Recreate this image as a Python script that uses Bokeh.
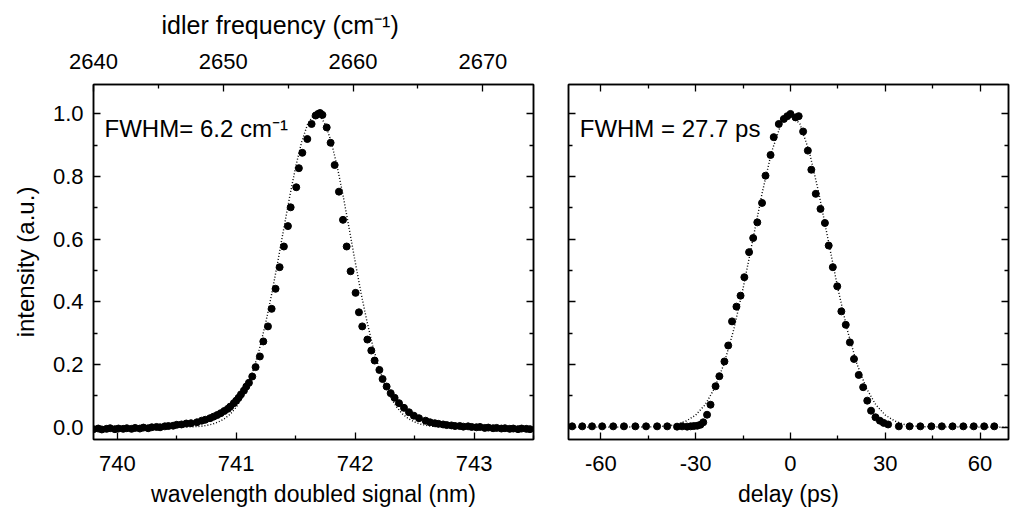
from bokeh.plotting import figure
from bokeh.models import Range1d, LinearAxis, FixedTicker, NumeralTickFormatter, CustomJSTickFormatter, Label, Title
from bokeh.layouts import row
from bokeh.embed import file_html
from bokeh.resources import INLINE

FONT = "Liberation Sans"

# ---------------- data: left panel (spectrum) ----------------
wl_nm = [739.80, 739.84, 739.87, 739.91, 739.94, 739.98, 740.01, 740.05, 740.08, 740.12,
         740.15, 740.19, 740.22, 740.26, 740.29, 740.33, 740.36, 740.40, 740.43, 740.47,
         740.50, 740.54, 740.58, 740.62, 740.67, 740.71, 740.74, 740.78, 740.81, 740.84,
         740.87, 740.90, 740.93, 740.95, 740.98, 741.00, 741.02, 741.04, 741.065, 741.085,
         741.107, 741.135, 741.163, 741.199, 741.228, 741.267, 741.298, 741.331, 741.365, 741.401,
         741.435, 741.458, 741.505, 741.527, 741.556, 741.598, 741.634, 741.668, 741.688, 741.705,
         741.725, 741.761, 741.794, 741.828, 741.864, 741.898, 741.929, 741.962, 742.004, 742.032,
         742.060, 742.103, 742.136, 742.164, 742.204, 742.231, 742.265, 742.299, 742.332, 742.369,
         742.411, 742.453, 742.494, 742.537, 742.593, 742.63, 742.67, 742.70, 742.74, 742.77,
         742.81, 742.84, 742.88, 742.91, 742.95, 742.98, 743.02, 743.05, 743.09, 743.12,
         743.16, 743.19, 743.23, 743.26, 743.30, 743.33, 743.37, 743.40, 743.44, 743.47]
wl_int = [-0.006, -0.004, -0.007, -0.005, -0.003, -0.006, -0.004, -0.005, -0.003, -0.005,
          -0.002, -0.004, -0.001, -0.003, 0.000, 0.001, 0.000, 0.003, 0.004, 0.005,
          0.008, 0.009, 0.012, 0.013, 0.016, 0.021, 0.024, 0.029, 0.034, 0.039,
          0.045, 0.052, 0.059, 0.066, 0.077, 0.085, 0.094, 0.105, 0.117, 0.130,
          0.142, 0.162, 0.192, 0.226, 0.274, 0.322, 0.378, 0.442, 0.511, 0.577,
          0.642, 0.702, 0.766, 0.827, 0.876, 0.920, 0.968, 0.995, 1.000, 1.003,
          0.997, 0.957, 0.908, 0.837, 0.752, 0.662, 0.577, 0.498, 0.429, 0.367,
          0.322, 0.280, 0.245, 0.213, 0.183, 0.154, 0.130, 0.109, 0.094, 0.077,
          0.062, 0.048, 0.037, 0.029, 0.021, 0.016, 0.013, 0.011, 0.009, 0.007,
          0.006, 0.004, 0.004, 0.002, 0.003, 0.001, 0.000, 0.001, -0.002, -0.001,
          -0.003, -0.002, -0.004, -0.003, -0.005, -0.004, -0.006, -0.004, -0.005, -0.006]

wl_fit_nm = [739.80, 740.50, 740.60, 740.65, 740.70, 740.75, 740.80, 740.85, 740.90, 740.95,
             741.00, 741.05, 741.10, 741.15, 741.20, 741.25, 741.30, 741.35, 741.40, 741.45,
             741.50, 741.55, 741.60, 741.65, 741.70, 741.75, 741.80, 741.85, 741.90, 741.95,
             742.00, 742.05, 742.10, 742.15, 742.20, 742.25, 742.30, 742.35, 742.40, 742.45,
             742.50, 742.55, 742.60, 742.65, 742.70, 742.75, 742.85, 743.50]
wl_fit_int = [0.000, 0.000, 0.001, 0.002, 0.003, 0.006, 0.010, 0.017, 0.027, 0.042,
              0.064, 0.095, 0.136, 0.190, 0.257, 0.337, 0.428, 0.529, 0.634, 0.737,
              0.831, 0.910, 0.967, 0.996, 0.996, 0.967, 0.910, 0.831, 0.737, 0.634,
              0.529, 0.428, 0.337, 0.257, 0.190, 0.136, 0.095, 0.064, 0.042, 0.027,
              0.017, 0.010, 0.006, 0.003, 0.002, 0.001, 0.000, 0.000]

# ---------------- data: right panel (cross-correlation) ----------------
delay_ps = [-69.1, -65.9, -62.8, -59.6, -56.1, -52.7, -49.1, -45.7, -42.2, -39.0,
            -35.9, -34.3, -32.7, -31.6, -30.6, -29.5, -28.5, -27.6, -26.4, -25.3,
            -23.7, -22.5, -20.9, -19.7, -18.5, -17.1, -15.8, -14.6, -13.1, -11.8,
            -10.5, -9.0, -7.9, -6.3, -5.3, -3.7, -2.1, -1.0, 0.0, 1.6,
            2.6, 4.0, 5.5, 6.6, 8.0, 9.5, 10.9, 12.1, 13.4, 14.8,
            16.1, 17.5, 18.8, 20.1, 21.6, 23.0, 24.3, 25.5, 26.9, 28.3,
            29.5, 30.9, 34.3, 37.7, 41.1, 44.6, 47.9, 51.3, 54.7, 58.0,
            61.3, 64.5]
delay_int = [0.003, 0.003, 0.003, 0.003, 0.003, 0.003, 0.003, 0.003, 0.003, 0.003,
             0.002, 0.003, 0.002, 0.003, 0.004, 0.005, 0.008, 0.016, 0.040, 0.072,
             0.131, 0.163, 0.210, 0.261, 0.338, 0.385, 0.420, 0.479, 0.559, 0.604,
             0.654, 0.716, 0.803, 0.869, 0.926, 0.968, 0.984, 0.993, 1.000, 0.989,
             0.993, 0.944, 0.883, 0.822, 0.745, 0.697, 0.652, 0.580, 0.511, 0.450,
             0.370, 0.327, 0.271, 0.218, 0.167, 0.128, 0.085, 0.053, 0.032, 0.021,
             0.014, 0.009, 0.003, 0.003, 0.003, 0.003, 0.003, 0.003, 0.003, 0.003,
             0.003, 0.003]

delay_fit_ps = [-70.0, -45, -42, -39, -36, -33, -30, -27, -24, -21, -18, -15, -12, -9, -6, -3,
                0, 3, 6, 9, 12, 15, 18, 21, 24, 27, 30, 33, 36, 39, 42, 45, 69.0]
delay_fit_int = [0.000, 0.001, 0.002, 0.004, 0.009, 0.020, 0.039, 0.072, 0.125, 0.203, 0.310, 0.443,
                 0.594, 0.746, 0.878, 0.968, 1.000, 0.968, 0.878, 0.746, 0.594, 0.443, 0.310,
                 0.203, 0.125, 0.072, 0.039, 0.020, 0.009, 0.004, 0.002, 0.001, 0.000]

# ---------------- ticks ----------------
nm_ticks = [740, 741, 742, 743]
nm_minor = [739.5, 740.5, 741.5, 742.5, 743.5]
idler_ticks = [2640, 2650, 2660, 2670]
idler_minor = [2645, 2655, 2665]
delay_ticks = [-60, -30, 0, 30, 60]
delay_minor = [-45, -15, 15, 45]
y_ticks = [0.0, 0.2, 0.4, 0.6, 0.8, 1.0]
y_minor = [0.1, 0.3, 0.5, 0.7, 0.9]

Y_RANGE = (-0.039, 1.094)


def style_axis(ax, labels=True):
    ax.major_tick_in = 7
    ax.major_tick_out = 0
    ax.minor_tick_in = 4
    ax.minor_tick_out = 0
    ax.axis_line_width = 1.5
    ax.axis_line_color = "black"
    ax.major_tick_line_width = 1.3
    ax.minor_tick_line_width = 1.3
    ax.major_tick_line_color = "black"
    ax.minor_tick_line_color = "black"
    ax.major_label_text_font = FONT
    ax.major_label_text_font_size = "22px"
    ax.major_label_text_color = "black"
    ax.axis_label_text_font = FONT
    ax.axis_label_text_font_size = "23px"
    ax.axis_label_text_font_style = "normal"
    ax.axis_label_text_color = "black"
    if not labels:
        ax.formatter = CustomJSTickFormatter(code="return ''")
        ax.major_label_standoff = 0


def make_fig(xr, width, bl, br):
    p = figure(x_range=Range1d(*xr), y_range=Range1d(*Y_RANGE), width=width, height=515,
               min_border_left=bl, min_border_right=br, min_border_top=84, min_border_bottom=76,
               output_backend="svg", toolbar_location=None,
               x_axis_location=None, y_axis_location=None)
    p.grid.visible = False
    p.outline_line_color = "black"
    p.outline_line_width = 1.5
    p.background_fill_color = "white"
    p.border_fill_color = "white"
    return p


# ---------------- left panel ----------------
p1 = make_fig((739.80, 743.50), 545, 93, 12)
p1.extra_x_ranges = {"idler": Range1d(2640.0, 2673.9)}

ax = LinearAxis(ticker=FixedTicker(ticks=nm_ticks, minor_ticks=nm_minor),
                axis_label="wavelength doubled signal (nm)")
style_axis(ax)
ax.major_label_standoff = 16
ax.axis_label_standoff = 7
p1.add_layout(ax, "below")

ax = LinearAxis(ticker=FixedTicker(ticks=idler_ticks, minor_ticks=idler_minor),
                x_range_name="idler")
style_axis(ax)
ax.major_label_standoff = 16
p1.add_layout(ax, "above")

# top axis title (sits left of the frame centre in the original)
p1.add_layout(Title(text="idler frequency (cm⁻¹)", align="left", offset=68, standoff=20,
                    vertical_align="top",
                    text_font=FONT, text_font_size="25px", text_font_style="normal",
                    text_color="black"), "above")

ax = LinearAxis(ticker=FixedTicker(ticks=y_ticks, minor_ticks=y_minor),
                formatter=NumeralTickFormatter(format="0.0"), axis_label="intensity (a.u.)")
style_axis(ax)
ax.axis_label_text_font_size = "24px"
ax.major_label_standoff = 10
ax.axis_label_standoff = 11
p1.add_layout(ax, "left")

ax = LinearAxis(ticker=FixedTicker(ticks=y_ticks, minor_ticks=y_minor))
style_axis(ax, labels=False)
p1.add_layout(ax, "right")

p1.line(wl_fit_nm, wl_fit_int, line_color="black", line_width=1.4, line_dash="1 2")
p1.scatter(wl_nm, wl_int, size=7, fill_color="black", line_color="black")
p1.add_layout(Label(x=739.893, y=0.952, text="FWHM= 6.2 cm⁻¹", text_font=FONT,
                    text_font_size="24px", text_color="black", text_baseline="alphabetic"))

# ---------------- right panel ----------------
p2 = make_fig((-70.25, 69.0), 467, 23, 4)

ax = LinearAxis(ticker=FixedTicker(ticks=delay_ticks, minor_ticks=delay_minor),
                formatter=CustomJSTickFormatter(code="return tick.toFixed(0)"),
                axis_label="delay (ps)")
style_axis(ax)
ax.major_label_standoff = 16
ax.axis_label_standoff = 7
p2.add_layout(ax, "below")

ax = LinearAxis(ticker=FixedTicker(ticks=delay_ticks, minor_ticks=delay_minor))
style_axis(ax, labels=False)
p2.add_layout(ax, "above")

ax = LinearAxis(ticker=FixedTicker(ticks=y_ticks, minor_ticks=y_minor))
style_axis(ax, labels=False)
p2.add_layout(ax, "left")

ax = LinearAxis(ticker=FixedTicker(ticks=y_ticks, minor_ticks=y_minor))
style_axis(ax, labels=False)
p2.add_layout(ax, "right")

p2.line(delay_fit_ps, delay_fit_int, line_color="black", line_width=1.4, line_dash="1 2")
p2.scatter(delay_ps, delay_int, size=7, fill_color="black", line_color="black")
p2.add_layout(Label(x=-66.7, y=0.952, text="FWHM = 27.7 ps", text_font=FONT,
                    text_font_size="24px", text_color="black", text_baseline="alphabetic"))

layout = row(p1, p2)
open("out.html", "w").write(file_html(layout, INLINE))
